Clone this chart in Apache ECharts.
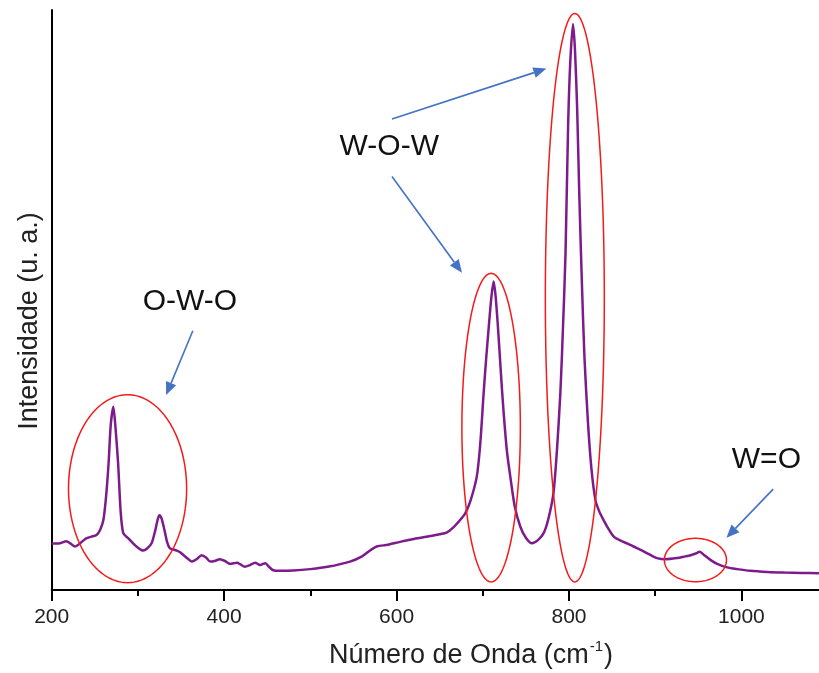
<!DOCTYPE html>
<html><head><meta charset="utf-8">
<script src="https://cdn.jsdelivr.net/npm/echarts@6/dist/echarts.min.js"></script>
<style>html,body{margin:0;padding:0;background:#fff}#c{width:819px;height:673px}</style>
</head><body><div id="c"></div>
<script>
// ---- data ----
const wavenumber = [200,208,217,222,227,234,240,246,252,256,260,263,266,268.5,271.5,274,277,280,283,289,294.7,300,306,311,316,320,323,325,327.5,331,334,337,341,345,349,353,358,362.5,368,374,379,384,389,395,401,407,411,415,419,424,430,436,439,442,445,448,452,457,465,480,500,520,546,560,570,577,590,604,620,639,650,658,666,674,680,686,693,697,701,704,707,710,712.6,715,718,721,724,728,732,737,743.6,750,757,764,770.6,776,782,786,790,793,796,799,801.5,804.7,807,809.5,812,815,818,822,826,830.7,835,840,846,852,860,868,875,885,895,902,912,925,935,941,947,951.7,957,964,972,983.5,995,1010,1030,1050,1070,1090];
const intensity = [8.0,8.0,8.4,8.0,7.5,8.2,8.9,9.2,9.5,10.3,12.1,16,21.9,28.5,31.6,28,21.9,13.5,9.8,8.9,8.0,7.3,6.8,7.2,8.1,10.2,12.2,12.9,12.3,10.2,8.2,7.2,7.0,6.8,6.5,6.0,5.4,4.9,5.3,6.0,5.6,4.9,5.0,5.3,5.0,4.5,4.6,4.7,4.4,4.0,4.3,4.7,4.5,4.3,4.5,4.6,4.0,3.4,3.3,3.35,3.6,4.0,4.9,5.8,6.9,7.5,7.8,8.3,8.8,9.3,9.6,9.9,10.8,12.1,13.3,15.5,19.5,25,33.9,40,45.4,50.5,53.2,50.5,44.5,37.5,31,24,19.5,14.5,10.9,9.0,8.05,8.6,9.8,12.2,16.7,24,33.9,45,58,80,91,97.6,93,83,68,52.9,40,29,21,15.5,13.6,12.1,10.5,9.2,8.5,8.0,7.5,6.8,6.0,5.5,5.3,5.5,5.8,6.0,6.3,6.6,6.0,5.2,4.5,3.9,3.6,3.3,3.1,3.0,2.95,2.9];
const xTickLabels = [200,400,600,800,1000];
const xTitle = 'Número de Onda (cm';
const xTitleSup = '-1';
const yTitle = 'Intensidade (u. a.)';

// annotations in data coordinates [wavenumber, intensity]
const labelTexts = ['O-W-O','W-O-W','W=O'];
const labelPos = [[360.4,49.7],[591.6,76.4],[1029,22.4]];
const ellipseCenters = [[288,17.47],[709.7,28.0],[806.8,50.4],[946.7,5.17]];
const ellipseRadii = [[68.5,16.2],[33.9,26.6],[34.2,49.0],[36,3.74]];
const arrowFrom = [[363.7,44.7],[594.7,81.2],[594.7,71.3],[1036.9,17.4]];
const arrowTo = [[332.7,33.6],[773.8,89.9],[675.9,54.7],[982.7,9.0]];

const FONT = '"Liberation Sans", Arial, sans-serif';
const chart = echarts.init(document.getElementById('c'), null, {renderer:'canvas'});
chart.setOption({
  animation:false,
  backgroundColor:'#fff',
  grid:{left:51.7,right:-8.6,top:10,bottom:83,containLabel:false,outerBoundsMode:'none'},
  xAxis:{type:'value',min:200,max:1100,interval:200,
    axisLine:{show:true,onZero:false,lineStyle:{color:'#000',width:2}},
    axisTick:{show:true,inside:false,length:11,lineStyle:{color:'#000',width:2}},
    minorTick:{show:true,splitNumber:2,length:6,lineStyle:{color:'#000',width:2}},
    splitLine:{show:false},
    axisLabel:{show:true,margin:17,fontSize:21,color:'#222',fontFamily:FONT,showMaxLabel:false,
      formatter:v=>xTickLabels.indexOf(v)>=0?String(v):''}},
  yAxis:{type:'value',min:0,max:100,
    axisLine:{show:true,lineStyle:{color:'#000',width:2}},
    axisTick:{show:false},axisLabel:{show:false},splitLine:{show:false}},
  series:[{type:'line',data:wavenumber.map((w,i)=>[w,intensity[i]]),showSymbol:false,smooth:0.25,
    lineStyle:{color:'#7d1b8c',width:2.5},z:3}]
});

function px(p){return chart.convertToPixel({gridIndex:0},p);}
const g = [];
// ellipses
ellipseCenters.forEach((c,i)=>{
  const cp = px(c);
  const ex = px([c[0]+ellipseRadii[i][0], c[1]]);
  const ey = px([c[0], c[1]+ellipseRadii[i][1]]);
  const rx = Math.abs(ex[0]-cp[0]), ry = Math.abs(cp[1]-ey[1]);
  const pts=[];
  for(let k=0;k<180;k++){const t=k/180*Math.PI*2;pts.push([cp[0]+rx*Math.cos(t),cp[1]+ry*Math.sin(t)]);}
  g.push({type:'polygon',shape:{points:pts},style:{fill:null,stroke:'#f41a1a',lineWidth:1.5},z:10});
});
// arrows
arrowFrom.forEach((f,i)=>{
  const a = px(f), b = px(arrowTo[i]);
  const dx=b[0]-a[0], dy=b[1]-a[1], L=Math.hypot(dx,dy), ux=dx/L, uy=dy/L;
  const hl=13, hw=5.5;
  const base=[b[0]-ux*hl,b[1]-uy*hl];
  g.push({type:'line',shape:{x1:a[0],y1:a[1],x2:base[0],y2:base[1]},style:{stroke:'#4472c4',lineWidth:1.6},z:10});
  g.push({type:'polygon',shape:{points:[b,[base[0]-uy*hw,base[1]+ux*hw],[base[0]+uy*hw,base[1]-ux*hw]]},style:{fill:'#4472c4'},z:10});
});
// labels
labelTexts.forEach((t,i)=>{
  const p = px(labelPos[i]);
  g.push({type:'text',x:p[0],y:p[1],style:{text:t,font:'30px '+FONT,fill:'#111',align:'center',verticalAlign:'middle'},z:10});
});
// axis titles
g.push({type:'text',x:471,y:654,style:{text:'{a|'+xTitle+'}{s|'+xTitleSup+'}{a|)}',align:'center',verticalAlign:'middle',
  rich:{a:{fontSize:27,fontFamily:FONT,fill:'#222',lineHeight:30,verticalAlign:'bottom'},
        s:{fontSize:15,fontFamily:FONT,fill:'#222',lineHeight:30,verticalAlign:'top',padding:[0,1,0,1]}}},z:10});
g.push({type:'text',x:30,y:321,rotation:Math.PI/2,style:{text:yTitle,font:'27px '+FONT,fill:'#222',align:'center',verticalAlign:'middle'},z:10});
chart.setOption({graphic:{elements:g}});
</script></body></html>
